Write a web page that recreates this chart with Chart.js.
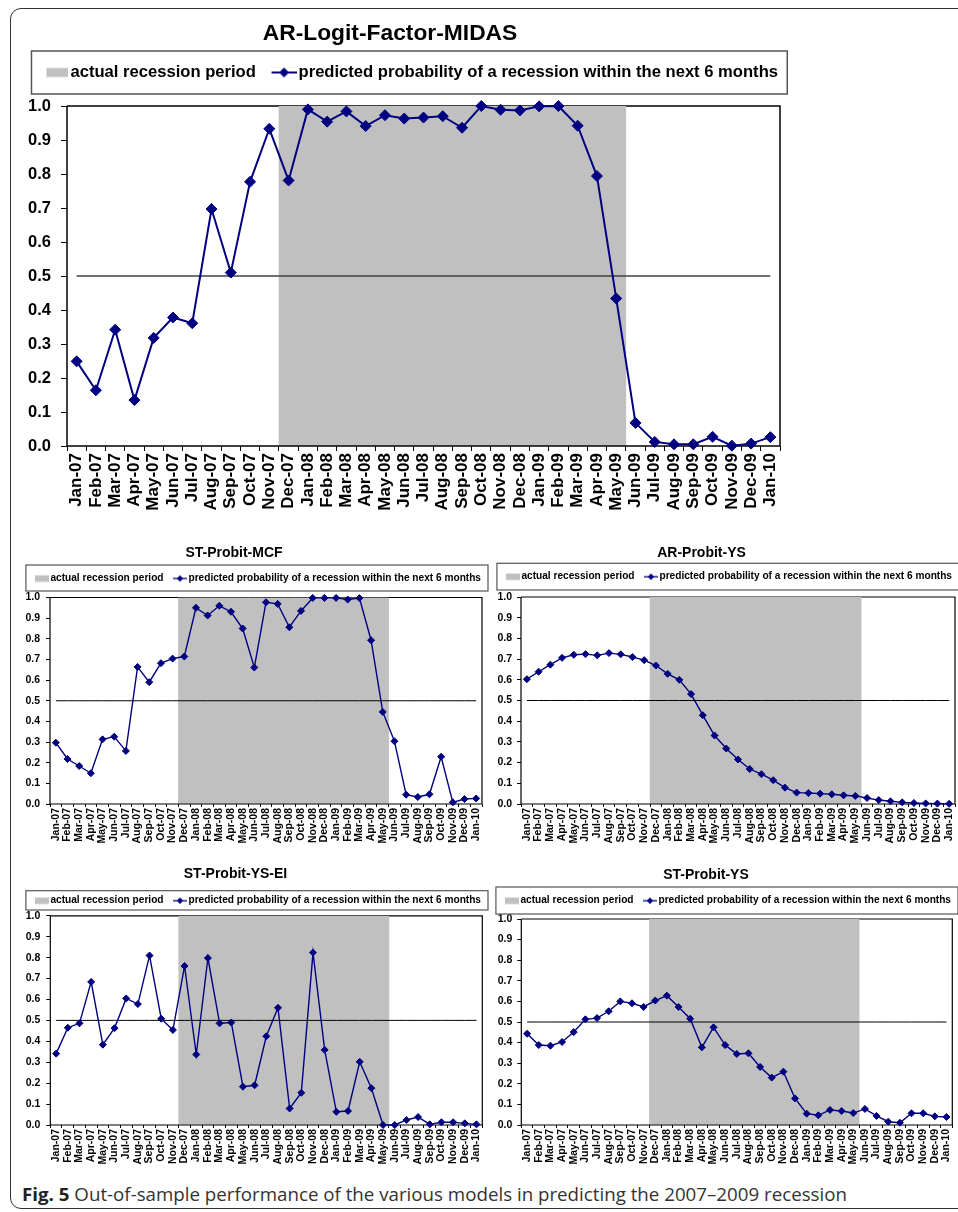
<!DOCTYPE html>
<html>
<head>
<meta charset="utf-8">
<script src="https://cdn.jsdelivr.net/npm/chart.js@4.4.0/dist/chart.umd.min.js"></script>
<style>
html,body{margin:0;padding:0;background:#fff;}
body{width:958px;height:1212px;position:relative;overflow:hidden;}
#frame{position:absolute;left:10px;top:8px;width:1000px;height:1201px;border:1.5px solid #333;border-radius:11px;box-sizing:border-box;}
canvas{position:absolute;}
#caption{position:absolute;left:22px;top:1185px;font-family:"Open Sans","Noto Sans",sans-serif;font-size:18px;line-height:18px;color:#333;white-space:nowrap;transform-origin:0 0;}
#caption b{font-weight:700;color:#222;}
</style>
</head>
<body>
<div id="frame"></div>
<canvas id="cBig"></canvas>
<canvas id="cTL"></canvas>
<canvas id="cTR"></canvas>
<canvas id="cBL"></canvas>
<canvas id="cBR"></canvas>
<div id="caption"><b>Fig. 5</b> Out-of-sample performance of the various models in predicting the 2007–2009 recession</div>
<script>
// ---------------- data ----------------
const categories = ['Jan-07','Feb-07','Mar-07','Apr-07','May-07','Jun-07','Jul-07','Aug-07','Sep-07','Oct-07','Nov-07','Dec-07',
  'Jan-08','Feb-08','Mar-08','Apr-08','May-08','Jun-08','Jul-08','Aug-08','Sep-08','Oct-08','Nov-08','Dec-08',
  'Jan-09','Feb-09','Mar-09','Apr-09','May-09','Jun-09','Jul-09','Aug-09','Sep-09','Oct-09','Nov-09','Dec-09','Jan-10'];

// 1 = month inside the actual recession period (Dec-07 .. May-09)
const recession = [0,0,0,0,0,0,0,0,0,0,0,1,
  1,1,1,1,1,1,1,1,1,1,1,1,
  1,1,1,1,1,0,0,0,0,0,0,0,0];

const probARLogitFactorMIDAS = [0.249,0.164,0.342,0.135,0.318,0.378,0.361,0.697,0.510,0.777,0.933,0.781,
  0.990,0.954,0.984,0.941,0.973,0.963,0.966,0.970,0.936,1.000,0.989,0.987,
  0.999,1.000,0.942,0.794,0.434,0.068,0.012,0.005,0.005,0.027,0.001,0.007,0.026];

const probSTProbitMCF = [0.297,0.218,0.184,0.149,0.313,0.326,0.257,0.664,0.590,0.682,0.704,0.714,
  0.950,0.913,0.960,0.931,0.850,0.661,0.977,0.969,0.856,0.935,0.998,0.998,
  0.998,0.990,0.997,0.793,0.446,0.304,0.045,0.034,0.047,0.229,0.008,0.024,0.027];

const probARProbitYS = [0.603,0.639,0.673,0.706,0.721,0.724,0.718,0.729,0.723,0.710,0.695,0.669,
  0.629,0.600,0.531,0.429,0.331,0.268,0.215,0.169,0.144,0.115,0.079,0.055,
  0.053,0.050,0.047,0.042,0.039,0.029,0.019,0.013,0.008,0.005,0.003,0.002,0.001];

const probSTProbitYSEI = [0.341,0.465,0.486,0.684,0.384,0.463,0.605,0.578,0.810,0.508,0.454,0.760,
  0.337,0.798,0.486,0.490,0.183,0.190,0.424,0.560,0.079,0.154,0.824,0.359,
  0.063,0.067,0.302,0.176,0.000,0.000,0.024,0.038,0.003,0.013,0.013,0.008,0.003];

const probSTProbitYS = [0.443,0.388,0.385,0.403,0.451,0.513,0.519,0.552,0.600,0.591,0.573,0.604,
  0.628,0.573,0.516,0.377,0.474,0.388,0.345,0.348,0.282,0.230,0.259,0.129,
  0.055,0.047,0.073,0.068,0.058,0.078,0.044,0.016,0.011,0.057,0.057,0.042,0.039];

const thresholdValue = 0.5;
const yTickLabels = ['0.0','0.1','0.2','0.3','0.4','0.5','0.6','0.7','0.8','0.9','1.0'];
const legendTexts = ['actual recession period', 'predicted probability of a recession within the next 6 months'];

// ---------------- styling ----------------
const FONT = '"Liberation Sans", Arial, Helvetica, sans-serif';
const NAVY = '#000080';
const GRAY = '#C0C0C0';

function makeSymbol(kind, w, h, s) {
  const c = document.createElement('canvas');
  c.width = w; c.height = h;
  const g = c.getContext('2d');
  if (kind === 'box') {
    g.fillStyle = GRAY;
    g.fillRect(w - s.grayW, (h - s.grayH) / 2, s.grayW, s.grayH);
  } else {
    g.strokeStyle = NAVY; g.lineWidth = s.legLineW;
    g.beginPath(); g.moveTo(w - s.lineSymW, h / 2); g.lineTo(w, h / 2); g.stroke();
    const cx = w - s.lineSymW / 2, cy = h / 2, r = s.legMarkerR;
    g.fillStyle = NAVY;
    g.beginPath(); g.moveTo(cx - r, cy); g.lineTo(cx, cy - r); g.lineTo(cx + r, cy); g.lineTo(cx, cy + r); g.closePath(); g.fill();
  }
  return c;
}

function buildChart(spec) {
  // canvas placed so that the title is centred on titleX and the legend text ends at legendEnd
  const width = Math.round(2 * (spec.legendEnd + spec.legPad - spec.titleX));
  const left = spec.legendEnd + spec.legPad - width;
  const cv = document.getElementById(spec.id);
  cv.width = width; cv.height = spec.height;
  cv.style.left = left + 'px'; cv.style.top = spec.top + 'px';

  const A = {L: spec.area.L - left, R: spec.area.R - left, T: spec.area.T - spec.top, B: spec.area.B - spec.top};
  const yAxisW = A.L, rightW = Math.max(0, width - A.R), xAxisH = spec.height - A.B;
  const tLH = spec.titleSize * 1.2;
  const tPadTop = (spec.titleY - spec.top) - tLH / 2;
  const itemTop = (spec.legendY - spec.top) - spec.legendSize / 2;
  const legTop = itemTop - spec.legPad;
  const tPadBottom = Math.max(0, legTop - tPadTop - tLH);
  const legBottom = itemTop + spec.legendSize + 10;
  const topGap = Math.max(0, A.T - legBottom);

  const fs = spec.legendSize, gp = spec.symGap;
  const bIdeal = spec.itemGap - spec.legPad + spec.lineSymW + gp - fs / 2;
  const imgW = Math.max(spec.lineSymW + 1, Math.round(bIdeal + fs - 2 * gp));
  const boxW = imgW - fs + 2 * gp;
  const grayImg = makeSymbol('box', imgW, spec.symH, spec);
  const lineImg = makeSymbol('line', imgW, spec.symH, spec);

  const frames = {
    id: 'frames',
    beforeDatasetsDraw(chart) {
      const a = chart.chartArea, ctx = chart.ctx;
      ctx.save(); ctx.strokeStyle = '#000'; ctx.lineWidth = spec.borderW;
      ctx.beginPath();
      ctx.moveTo(a.left, a.top); ctx.lineTo(a.right, a.top); ctx.lineTo(a.right, a.bottom);
      ctx.stroke(); ctx.restore();
    },
    afterDatasetDraw(chart, args) {
      if (args.index !== 0) return;
      const a = chart.chartArea, ctx = chart.ctx;
      ctx.save(); ctx.strokeStyle = '#000'; ctx.lineWidth = spec.borderW;
      ctx.beginPath();
      ctx.moveTo(a.left, a.top); ctx.lineTo(a.left, a.bottom); ctx.lineTo(a.right, a.bottom);
      ctx.stroke(); ctx.restore();
    },
    afterDraw(chart) {
      const hb = chart.legend && chart.legend.legendHitBoxes;
      if (!hb || !hb.length) return;
      const ctx = chart.ctx;
      const first = hb[0], last = hb[hb.length - 1];
      const visLeft = first.left + boxW / 2 + imgW / 2 - spec.grayW;
      const x1 = visLeft - spec.boxPadL;
      const x2 = Math.min(last.left + last.width + spec.boxPadR, chart.width - spec.legendBorderW / 2);
      const y1 = spec.legendBox[0] - spec.top, y2 = spec.legendBox[1] - spec.top;
      ctx.save(); ctx.strokeStyle = '#555'; ctx.lineWidth = spec.legendBorderW;
      ctx.strokeRect(x1, y1, x2 - x1, y2 - y1); ctx.restore();
    }
  };

  return new Chart(cv, {
    data: {
      labels: categories,
      datasets: [
        {type: 'bar', label: legendTexts[0], data: recession.map(f => f ? 1 : null),
         backgroundColor: GRAY, borderWidth: 0, barPercentage: 1, categoryPercentage: 1, order: 3},
        {type: 'line', label: 'threshold', data: categories.map(() => thresholdValue),
         borderColor: spec.threshColor, borderWidth: spec.threshW, pointRadius: 0, fill: false, order: 2},
        {type: 'line', label: legendTexts[1], data: spec.values,
         borderColor: NAVY, backgroundColor: NAVY, borderWidth: spec.lineW, tension: 0, fill: false,
         pointStyle: 'rectRot', pointRadius: spec.markerR, pointHoverRadius: spec.markerR,
         pointBorderWidth: 1, pointBorderColor: NAVY, pointBackgroundColor: NAVY, clip: false, order: 1}
      ]
    },
    options: {
      responsive: false, animation: false, events: [],
      layout: {padding: 0},
      plugins: {
        title: {display: true, text: spec.title, color: '#000',
                font: {family: FONT, size: spec.titleSize, weight: 'bold', lineHeight: 1.2},
                padding: {top: tPadTop, bottom: tPadBottom}},
        legend: {display: true, position: 'top', align: 'end',
          labels: {usePointStyle: true, pointStyleWidth: boxW, padding: spec.legPad, color: '#000',
                   font: {family: FONT, size: fs, weight: 'bold'},
                   generateLabels: () => [
                     {text: legendTexts[0], pointStyle: grayImg, fillStyle: GRAY, strokeStyle: GRAY, lineWidth: 0, hidden: false, datasetIndex: 0},
                     {text: legendTexts[1], pointStyle: lineImg, fillStyle: NAVY, strokeStyle: NAVY, lineWidth: 0, hidden: false, datasetIndex: 2}
                   ]}},
        tooltip: {enabled: false}
      },
      scales: {
        x: {type: 'category', position: 'bottom', offset: true,
            grid: {display: true, drawOnChartArea: false, drawTicks: true, tickLength: spec.xTick, color: '#000', lineWidth: 1, offset: true},
            border: {display: false},
            ticks: {autoSkip: false, minRotation: 90, maxRotation: 90, padding: spec.xPad, color: '#000',
                    font: {family: FONT, size: spec.xFont, weight: 'bold'}},
            afterFit: s => { s.height = xAxisH; s.paddingLeft = 0; s.paddingRight = 0; }},
        xTop: {type: 'category', axis: 'x', position: 'top', display: topGap > 0,
            grid: {display: false, drawTicks: false}, border: {display: false}, ticks: {display: false},
            afterFit: s => { s.height = topGap; s.paddingLeft = 0; s.paddingRight = 0; }},
        y: {type: 'linear', position: 'left', min: 0, max: 1,
            grid: {display: true, drawOnChartArea: false, drawTicks: true, tickLength: spec.yTick, color: '#000', lineWidth: 1},
            border: {display: false},
            ticks: {stepSize: 0.1, padding: spec.yPad, color: '#000',
                    font: {family: FONT, size: spec.yFont, weight: 'bold'},
                    callback: (v) => yTickLabels[Math.round(v * 10)]},
            afterFit: s => { s.width = yAxisW; s.paddingTop = 0; s.paddingBottom = 0; }},
        yRight: {type: 'linear', axis: 'y', position: 'right', display: true,
            grid: {display: false, drawTicks: false}, border: {display: false}, ticks: {display: false},
            afterFit: s => { s.width = rightW; }}
      }
    },
    plugins: [frames]
  });
}

const bigStyle = {
  legendSize: 16.6, legPad: 10, symGap: 2, itemGap: 16, grayW: 22, grayH: 9, lineSymW: 25, symH: 12,
  legMarkerR: 5, legLineW: 2, boxPadL: 15, boxPadR: 12, legendBorderW: 1.5,
  markerR: 5.5, lineW: 2, yFont: 16.5, xFont: 17, yTick: 6, yPad: 10, xTick: 5, xPad: 2,
  threshColor: '#404040', threshW: 1.5, borderW: 1.5, titleSize: 22.8
};
const smallStyle = {
  legendSize: 10.15, legPad: 8, symGap: 1.5, itemGap: 9, grayW: 14, grayH: 6.5, lineSymW: 14, symH: 8,
  legMarkerR: 3.2, legLineW: 1.3, boxPadL: 9, boxPadR: 7, legendBorderW: 1.2,
  markerR: 3.5, lineW: 1.4, yFont: 10.5, xFont: 10.5, yTick: 4, yPad: 6, xTick: 3, xPad: 1,
  threshColor: '#000', threshW: 1, borderW: 1.2, titleSize: 14
};

buildChart(Object.assign({}, bigStyle, {
  id: 'cBig', top: 0, height: 524, titleX: 390, legendEnd: 778,
  area: {L: 67, R: 780, T: 106, B: 446},
  title: 'AR-Logit-Factor-MIDAS', titleY: 34, legendY: 72.5, legendBox: [51, 94],
  values: probARLogitFactorMIDAS
}));
buildChart(Object.assign({}, smallStyle, {
  id: 'cTL', top: 540, height: 320, titleX: 234, legendEnd: 481,
  area: {L: 50, R: 482, T: 597.5, B: 804},
  title: 'ST-Probit-MCF', titleY: 553, legendY: 578.5, legendBox: [565, 591],
  values: probSTProbitMCF
}));
buildChart(Object.assign({}, smallStyle, {
  id: 'cTR', top: 540, height: 320, titleX: 701.5, legendEnd: 952,
  area: {L: 521, R: 955, T: 597, B: 804}, yPad: 5,
  title: 'AR-Probit-YS', titleY: 553.3, legendY: 576.7, legendBox: [563.3, 590],
  values: probARProbitYS
}));
buildChart(Object.assign({}, smallStyle, {
  id: 'cBL', top: 860, height: 315, titleX: 235, legendEnd: 480.7,
  area: {L: 50, R: 482, T: 915, B: 1125},
  title: 'ST-Probit-YS-EI', titleY: 874.3, legendY: 900.7, legendBox: [890.7, 910],
  values: probSTProbitYSEI
}));
buildChart(Object.assign({}, smallStyle, {
  id: 'cBR', top: 860, height: 315, titleX: 705.5, legendEnd: 950.7,
  area: {L: 521, R: 952, T: 919, B: 1125}, yPad: 5,
  title: 'ST-Probit-YS', titleY: 875, legendY: 900.7, legendBox: [887, 914],
  values: probSTProbitYS
}));

// caption: condense horizontally to the reference text width
const cap = document.getElementById('caption');
const capW = cap.getBoundingClientRect().width;
cap.style.transform = 'scaleX(' + (825 / capW) + ')';
</script>
</body>
</html>
